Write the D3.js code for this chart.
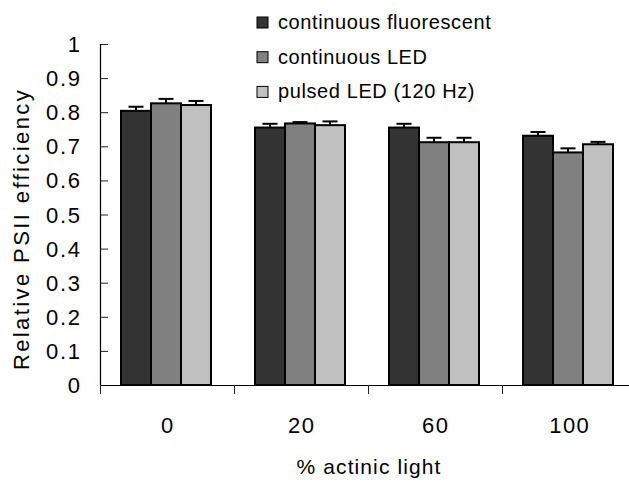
<!DOCTYPE html>
<html>
<head>
<meta charset="utf-8">
<script src="https://cdn.jsdelivr.net/npm/d3@7"></script>
<style>
  html, body { margin: 0; padding: 0; background: #fff; }
  svg text { font-family: "Liberation Sans", Arial, sans-serif; fill: #000; }
</style>
</head>
<body>
<svg id="chart" width="629" height="484"></svg>
<script>
// Light levels (% actinic light) on the x axis
const categories = ["0", "20", "60", "100"];
// Light source series
const seriesNames = ["continuous fluorescent", "continuous LED", "pulsed LED (120 Hz)"];
const seriesColors = ["#333333", "#808080", "#c0c0c0"];
// Mean relative PSII efficiency per series, one value per category
const fluorescent = [0.804, 0.755, 0.755, 0.731];
const ledContinuous = [0.826, 0.767, 0.712, 0.682];
const ledPulsed = [0.821, 0.762, 0.712, 0.706];
// Error bar (upper) sizes
const fluorescentErr = [0.012, 0.011, 0.011, 0.011];
const ledContinuousErr = [0.013, 0.004, 0.013, 0.012];
const ledPulsedErr = [0.012, 0.011, 0.013, 0.007];
const yTicks = [0, 0.1, 0.2, 0.3, 0.4, 0.5, 0.6, 0.7, 0.8, 0.9, 1];

const values = [fluorescent, ledContinuous, ledPulsed];
const errors = [fluorescentErr, ledContinuousErr, ledPulsedErr];

const svg = d3.select("#chart");
const plotLeft = 100, plotRight = 636, plotTop = 44, plotBottom = 385;

const x = d3.scaleBand().domain(categories).range([plotLeft, plotRight]).paddingInner(0).paddingOuter(0);
const xInner = d3.scaleBand().domain(d3.range(seriesNames.length))
  .range([21, x.bandwidth() - 23]).padding(0);
const y = d3.scaleLinear().domain([0, 1]).range([plotBottom, plotTop]);

// Bars
const groups = svg.append("g").selectAll("g")
  .data(categories)
  .join("g")
  .attr("transform", d => `translate(${x(d)},0)`);

groups.selectAll("rect")
  .data((c, ci) => seriesNames.map((s, si) => ({ si, v: values[si][ci], e: errors[si][ci] })))
  .join("rect")
  .attr("x", d => xInner(d.si))
  .attr("y", d => y(d.v))
  .attr("width", xInner.bandwidth())
  .attr("height", d => y(0) - y(d.v))
  .attr("fill", d => seriesColors[d.si])
  .attr("stroke", "#000")
  .attr("stroke-width", 2);

// Upper error bars
const eb = groups.selectAll("g.err")
  .data((c, ci) => seriesNames.map((s, si) => ({ si, v: values[si][ci], e: errors[si][ci] })))
  .join("g").attr("class", "err");
eb.append("line")
  .attr("x1", d => xInner(d.si) + xInner.bandwidth() / 2)
  .attr("x2", d => xInner(d.si) + xInner.bandwidth() / 2)
  .attr("y1", d => y(d.v))
  .attr("y2", d => y(d.v + d.e))
  .attr("stroke", "#000").attr("stroke-width", 2);
eb.append("line")
  .attr("x1", d => xInner(d.si) + xInner.bandwidth() / 2 - 7.5)
  .attr("x2", d => xInner(d.si) + xInner.bandwidth() / 2 + 7.5)
  .attr("y1", d => y(d.v + d.e))
  .attr("y2", d => y(d.v + d.e))
  .attr("stroke", "#000").attr("stroke-width", 2);

// Y axis: ticks point inward into the plot
const yAxis = d3.axisRight(y).tickValues(yTicks).tickSize(8).tickFormat("");
const yg = svg.append("g").attr("transform", `translate(${plotLeft},0)`).call(yAxis);
yg.select(".domain").remove();
yg.selectAll(".tick line").attr("stroke", "#222").attr("stroke-width", 1);
svg.append("line").attr("x1", plotLeft + 0.5).attr("x2", plotLeft + 0.5)
  .attr("y1", y(1)).attr("y2", y(0)).attr("stroke", "#000").attr("stroke-width", 1.2);

const tickLs = 1.7;
svg.append("g").selectAll("text")
  .data(yTicks)
  .join("text")
  .attr("x", 80 + tickLs)
  .attr("y", d => y(d) + 8)
  .attr("text-anchor", "end")
  .attr("font-size", 22)
  .attr("letter-spacing", tickLs)
  .text(d => d3.format("")(d));

// X axis
svg.append("line").attr("x1", plotLeft).attr("x2", plotRight)
  .attr("y1", plotBottom + 0.5).attr("y2", plotBottom + 0.5)
  .attr("stroke", "#000").attr("stroke-width", 1.2);
svg.append("g").selectAll("line")
  .data(categories)
  .join("line")
  .attr("x1", d => x(d) + 0.5).attr("x2", d => x(d) + 0.5)
  .attr("y1", plotBottom).attr("y2", plotBottom + 9)
  .attr("stroke", "#222").attr("stroke-width", 1);

const xLs = 1.3;
svg.append("g").selectAll("text")
  .data(categories)
  .join("text")
  .attr("x", d => x(d) + x.bandwidth() / 2 + xLs / 2)
  .attr("y", 433)
  .attr("text-anchor", "middle")
  .attr("font-size", 22)
  .attr("letter-spacing", xLs)
  .text(d => d);

// Axis titles
svg.append("text")
  .attr("x", 369).attr("y", 474)
  .attr("text-anchor", "middle")
  .attr("font-size", 21)
  .attr("letter-spacing", 1.1)
  .text("% actinic light");

svg.append("text")
  .attr("transform", "translate(28.5,229) rotate(-90)")
  .attr("text-anchor", "middle")
  .attr("font-size", 22)
  .attr("letter-spacing", 2.4)
  .text("Relative PSII efficiency");

// Legend
const legend = svg.append("g").selectAll("g")
  .data(seriesNames)
  .join("g")
  .attr("transform", (d, i) => `translate(257,${17 + i * 34.7})`);
legend.append("rect")
  .attr("width", 11).attr("height", 11)
  .attr("fill", (d, i) => seriesColors[i])
  .attr("stroke", "#000").attr("stroke-width", 1);
legend.append("text")
  .attr("x", 21).attr("y", 12)
  .attr("font-size", 20)
  .attr("letter-spacing", 0.6)
  .text(d => d);
</script>
</body>
</html>
